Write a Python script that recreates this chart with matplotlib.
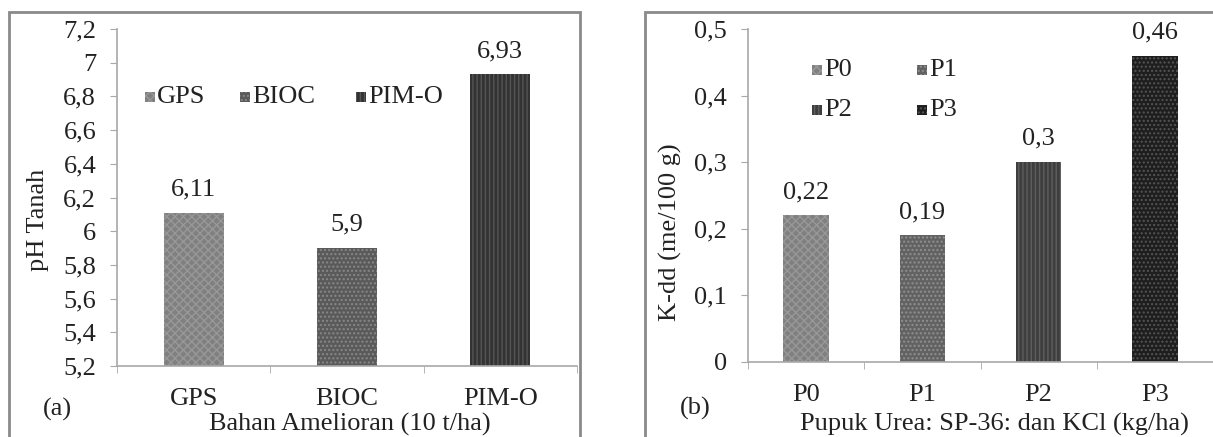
import matplotlib
matplotlib.use("Agg")
import matplotlib.pyplot as plt
from matplotlib.patches import Rectangle
from matplotlib.ticker import FuncFormatter

plt.rcParams['font.family'] = ['Liberation Serif', 'DejaVu Serif']
plt.rcParams['hatch.linewidth'] = 1.0

# Data
cats_a = ["GPS", "BIOC", "PIM-O"]
vals_a = [6.11, 5.9, 6.93]
labels_a = ["6,11", "5,9", "6,93"]
cats_b = ["P0", "P1", "P2", "P3"]
vals_b = [0.22, 0.19, 0.3, 0.46]
labels_b = ["0,22", "0,19", "0,3", "0,46"]

FS = 19
TXT = '#222222'
W, H = 1213, 437
fig = plt.figure(figsize=(W / 100, H / 100), dpi=100)

def comma(v, pos):
    return f"{round(v, 2):g}".replace('.', ',')

def style_axes(ax):
    for s in ['top', 'right']:
        ax.spines[s].set_visible(False)
    for s in ['left', 'bottom']:
        ax.spines[s].set_color('#a8a8a8')
        ax.spines[s].set_linewidth(1.2)
    ax.tick_params(axis='y', direction='out', length=5, color='#a8a8a8',
                   labelsize=FS, pad=10, labelcolor=TXT)
    ax.tick_params(axis='x', which='major', length=0, labelsize=FS, pad=16,
                   labelcolor=TXT)
    ax.tick_params(axis='x', which='minor', direction='out', length=5,
                   color='#a8a8a8')
    ax.yaxis.set_major_formatter(FuncFormatter(comma))

# Panel frames
fig.patches.append(Rectangle((9 / W, -0.01), (580 - 9) / W, 1.01 - 12 / H,
                             transform=fig.transFigure, fill=False,
                             edgecolor='#8a8a8a', linewidth=2.0))
fig.patches.append(Rectangle((645 / W, -0.01), (1220 - 645) / W, 1.01 - 12 / H,
                             transform=fig.transFigure, fill=False,
                             edgecolor='#8a8a8a', linewidth=2.0))

# Panel (a)
axa = fig.add_axes([117 / W, 1 - 366 / H, (577 - 117) / W, (366 - 29) / H])
face_a = ['#808080', '#5a5a5a', '#333333']
edge_a = ['#989898', '#888888', '#555555']
hatch_a = ['xxxx', '....', '||||']
xa = list(range(len(cats_a)))
bars = axa.bar(xa, [v - 5.2 for v in vals_a], bottom=5.2, width=0.39,
               color=face_a, edgecolor=edge_a, linewidth=0)
for b, h in zip(bars, hatch_a):
    b.set_hatch(h)
axa.set_ylim(5.2, 7.2)
axa.set_xlim(-0.5, 2.5)
axa.set_yticks([5.2 + 0.2 * i for i in range(11)])
axa.set_xticks(xa)
axa.set_xticklabels(cats_a)
axa.set_xticks([-0.5, 0.5, 1.5, 2.5], minor=True)
style_axes(axa)
for x, v, t in zip(xa, vals_a, labels_a):
    axa.annotate(t, (x, v), xytext=(0, 9), textcoords='offset points',
                 ha='center', va='bottom', fontsize=FS, color=TXT)
leg_a_x = [150, 245, 361]
for i, name in enumerate(cats_a):
    px = leg_a_x[i]
    fig.patches.append(Rectangle(((px - 5) / W, 1 - 102 / H), 10 / W, 10 / H,
                                 transform=fig.transFigure, facecolor=face_a[i],
                                 edgecolor=edge_a[i], linewidth=0, hatch=hatch_a[i]))
    fig.text((px + 7) / W, 1 - 97 / H, name, fontsize=FS, ha='left',
             va='center', color=TXT)
fig.text(38 / W, 1 - 220 / H, "pH Tanah", rotation=90, fontsize=FS,
         ha='center', va='center', color=TXT)
fig.text(43 / W, 1 - 409 / H, "(a)", fontsize=FS, ha='left', va='center',
         color=TXT)
fig.text(350 / W, 1 - 424 / H, "Bahan Amelioran (10 t/ha)", fontsize=FS,
         ha='center', va='center', color=TXT)

# Panel (b)
axb = fig.add_axes([748 / W, 1 - 362 / H, (1213 - 748) / W, (362 - 29) / H])
face_b = ['#808080', '#626262', '#3e3e3e', '#1e1e1e']
edge_b = ['#989898', '#909090', '#5e5e5e', '#555555']
hatch_b = ['xxxx', '....', '||||', '....']
xb = list(range(len(cats_b)))
bars = axb.bar(xb, vals_b, width=0.39, color=face_b, edgecolor=edge_b,
               linewidth=0)
for b, h in zip(bars, hatch_b):
    b.set_hatch(h)
axb.set_ylim(0, 0.5)
axb.set_xlim(-0.5, 3.5)
axb.set_yticks([0.1 * i for i in range(6)])
axb.set_xticks(xb)
axb.set_xticklabels(cats_b)
axb.set_xticks([-0.5, 0.5, 1.5, 2.5, 3.5], minor=True)
style_axes(axb)
for x, v, t in zip(xb, vals_b, labels_b):
    axb.annotate(t, (x, v), xytext=(0, 9), textcoords='offset points',
                 ha='center', va='bottom', fontsize=FS, color=TXT)
leg_pos = [(817, 70), (922, 70), (817, 110), (922, 110)]
for i, name in enumerate(cats_b):
    px, py = leg_pos[i]
    fig.patches.append(Rectangle(((px - 5) / W, 1 - (py + 5) / H), 10 / W, 10 / H,
                                 transform=fig.transFigure, facecolor=face_b[i],
                                 edgecolor=edge_b[i], linewidth=0, hatch=hatch_b[i]))
    fig.text((px + 7) / W, 1 - py / H, name, fontsize=FS, ha='left',
             va='center', color=TXT)
fig.text(670 / W, 1 - 232 / H, "K-dd (me/100 g)", rotation=90, fontsize=FS,
         ha='center', va='center', color=TXT)
fig.text(680 / W, 1 - 408 / H, "(b)", fontsize=FS, ha='left', va='center',
         color=TXT)
fig.text(994 / W, 1 - 424 / H, "Pupuk Urea: SP-36: dan KCl (kg/ha)", fontsize=FS,
         ha='center', va='center', color=TXT)

fig.savefig("out.png", dpi=100)
